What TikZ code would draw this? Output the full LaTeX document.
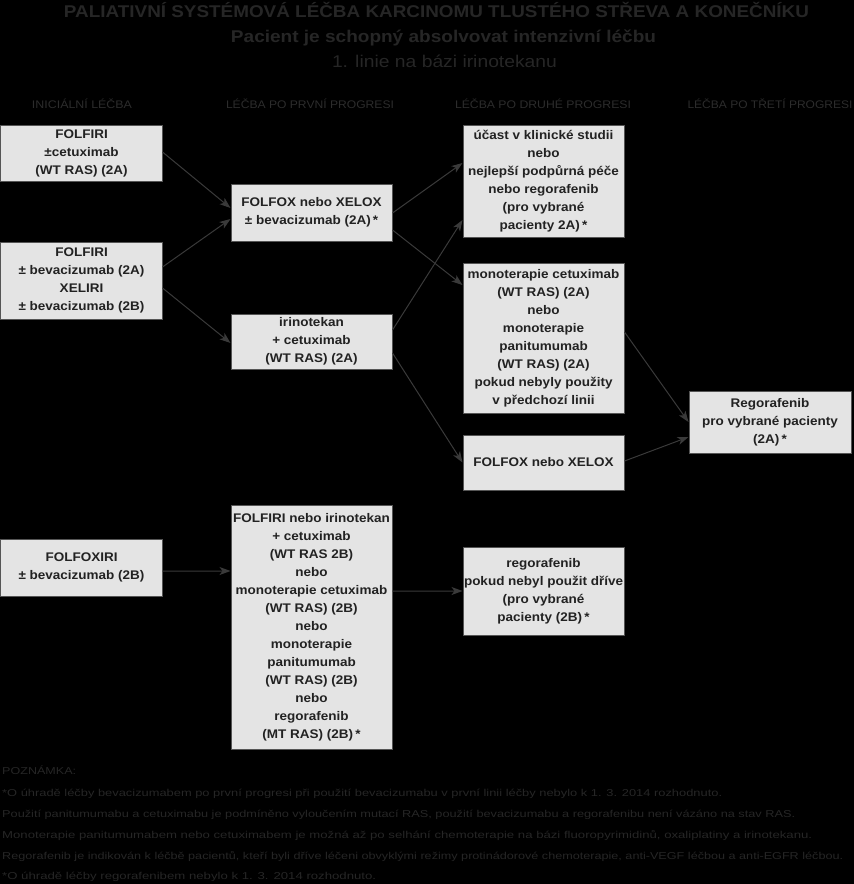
\documentclass[tikz,border=0pt]{standalone}
\usepackage{fontspec}
\setmainfont{Liberation Sans}
\newfontfamily\boxfont{Liberation Sans}[FakeStretch=1.08]
\usepackage{graphicx}
\usetikzlibrary{arrows.meta,calc}

\definecolor{boxfill}{HTML}{E4E4E4}
\definecolor{boxline}{HTML}{555555}
\definecolor{boxtext}{HTML}{222222}
\definecolor{titletext}{HTML}{262626}
\definecolor{headtext}{HTML}{2C2C2C}
\definecolor{notetext}{HTML}{262626}
\definecolor{arrowcol}{HTML}{3A3A3A}

\newsavebox\mybox
\newlength\mylenA
\newlength\mylenB
\newcommand\fitw[2]{\sbox\mybox{#2}\setlength\mylenA{\wd\mybox}\setlength\mylenB{#1}\pgfmathsetmacro\myfx{\mylenB/\mylenA}\scalebox{\myfx}[1]{\usebox\mybox}}

\begin{document}
\begin{tikzpicture}[x=1bp,y=-1bp,
  box/.style={draw=boxline, line width=1bp, fill=boxfill, text=boxtext,
    font=\boxfont\bfseries\fontsize{12.5bp}{18bp}\selectfont, align=center, inner sep=0pt},
  conn/.style={draw=arrowcol, line width=1bp, -{Stealth[length=11bp,width=8bp,inset=3bp]}},
  titlestyle/.style={anchor=base, inner sep=0pt, text=titletext, font=\bfseries\fontsize{17bp}{20bp}\selectfont},
  substyle/.style={anchor=base, inner sep=0pt, text=titletext, font=\fontsize{17bp}{20bp}\selectfont},
  headstyle/.style={anchor=base, inner sep=0pt, text=headtext, font=\fontsize{11bp}{13bp}\selectfont},
  notestyle/.style={anchor=base west, inner sep=0pt, text=notetext, font=\fontsize{10bp}{12bp}\selectfont}
]
\fill[black] (0,0) rectangle (854,884);
\useasboundingbox (0,0) rectangle (854,884);

% titles
\node[titlestyle] (t1) at (436.5,17) {\fitw{745bp}{PALIATIVNÍ SYSTÉMOVÁ LÉČBA KARCINOMU TLUSTÉHO STŘEVA A KONEČNÍKU}};
\node[titlestyle] (t2) at (443.5,42) {\fitw{425bp}{Pacient je schopný absolvovat intenzivní léčbu}};
\node[substyle] (t3) at (444.5,67) {\fitw{225bp}{1. linie na bázi irinotekanu}};

% column headers
\node[headstyle] (h1) at (82,108) {\fitw{100bp}{INICIÁLNÍ LÉČBA}};
\node[headstyle] (h2) at (310,108) {\fitw{168bp}{LÉČBA PO PRVNÍ PROGRESI}};
\node[headstyle] (h3) at (543,108) {\fitw{176bp}{LÉČBA PO DRUHÉ PROGRESI}};
\node[headstyle] (h4) at (770,108) {\fitw{165bp}{LÉČBA PO TŘETÍ PROGRESI}};

% boxes
\node[box, minimum width=161bp, minimum height=56bp] (A) at (81.5,153) {FOLFIRI\\±cetuximab\\(WT RAS) (2A)};
\node[box, minimum width=161bp, minimum height=77bp] (B) at (81.5,280.5) {FOLFIRI\\± bevacizumab (2A)\\XELIRI\\± bevacizumab (2B)};
\node[box, minimum width=161bp, minimum height=57bp] (J) at (81.5,567.5) {FOLFOXIRI\\± bevacizumab (2B)};

\node[box, minimum width=161bp, minimum height=57bp] (C) at (311.5,212.5) {FOLFOX nebo XELOX\\± bevacizumab (2A)\,*};
\node[box, minimum width=161bp, minimum height=55bp] (D) at (311.5,341.5) {irinotekan\\+ cetuximab\\(WT RAS) (2A)};
\node[box, minimum width=161bp, minimum height=244bp] (K) at (311.5,627) {FOLFIRI nebo irinotekan\\+ cetuximab\\(WT RAS 2B)\\nebo\\monoterapie cetuximab\\(WT RAS) (2B)\\nebo\\monoterapie\\panitumumab\\(WT RAS) (2B)\\nebo\\regorafenib\\(MT RAS) (2B)\,*};

\node[box, minimum width=161bp, minimum height=112bp] (E) at (543.5,181) {účast v klinické studii\\nebo\\nejlepší podpůrná péče\\nebo regorafenib\\(pro vybrané\\pacienty 2A)\,*};
\node[box, minimum width=161bp, minimum height=150bp] (F) at (543.5,338) {monoterapie cetuximab\\(WT RAS) (2A)\\nebo\\monoterapie\\panitumumab\\(WT RAS) (2A)\\pokud nebyly použity\\v předchozí linii};
\node[box, minimum width=161bp, minimum height=55bp] (G) at (543.5,462.5) {FOLFOX nebo XELOX};
\node[box, minimum width=161bp, minimum height=88bp] (I) at (543.5,591) {regorafenib\\pokud nebyl použit dříve\\(pro vybrané\\pacienty (2B)\,*};

\node[box, minimum width=162bp, minimum height=62bp] (H) at (770,422) {Regorafenib\\pro vybrané pacienty\\(2A)\,*};

% connectors
\draw[conn] ([yshift=1bp]A.east) -- ([yshift=4.5bp]C.west);
\draw[conn] ([yshift=13.5bp]B.east) -- ([yshift=-6.5bp]C.west);
\draw[conn] ([yshift=-7.5bp]B.east) -- ([yshift=-1.5bp]D.west);
\draw[conn] ([yshift=-3.5bp]J.east) -- ([yshift=56bp]K.west);

\draw[conn] ([yshift=-0.5bp]C.east) -- ([yshift=18bp]E.west);
\draw[conn] ([yshift=-17.5bp]C.east) -- ([yshift=53bp]F.west);
\draw[conn] ([yshift=11.5bp]D.east) -- ([yshift=-39bp]E.west);
\draw[conn] ([yshift=-11.5bp]D.east) -- (G.west);
\draw[conn] ([yshift=36bp]K.east) -- (I.west);

\draw[conn] ([yshift=6bp]F.east) -- (H.west);
\draw[conn] ([yshift=1.5bp]G.east) -- ([yshift=-15bp]H.west);

% notes
\node[notestyle] (n0) at (2,774) {\fitw{74bp}{POZNÁMKA:}};
\node[notestyle] (n1) at (2,796) {\fitw{720bp}{*O úhradě léčby bevacizumabem po první progresi při použití bevacizumabu v první linii léčby nebylo k 1. 3. 2014 rozhodnuto.}};
\node[notestyle] (n2) at (2,817) {\fitw{793bp}{Použití panitumumabu a cetuximabu je podmíněno vyloučením mutací RAS, použití bevacizumabu a regorafenibu není vázáno na stav RAS.}};
\node[notestyle] (n3) at (2,838) {\fitw{810bp}{Monoterapie panitumumabem nebo cetuximabem je možná až po selhání chemoterapie na bázi fluoropyrimidinů, oxaliplatiny a irinotekanu.}};
\node[notestyle] (n4) at (2,859) {\fitw{841bp}{Regorafenib je indikován k léčbě pacientů, kteří byli dříve léčeni obvyklými režimy protinádorové chemoterapie, anti-VEGF léčbou a anti-EGFR léčbou.}};
\node[notestyle] (n5) at (2,879) {\fitw{374bp}{*O úhradě léčby regorafenibem nebylo k 1. 3. 2014 rozhodnuto.}};
\end{tikzpicture}
\end{document}
